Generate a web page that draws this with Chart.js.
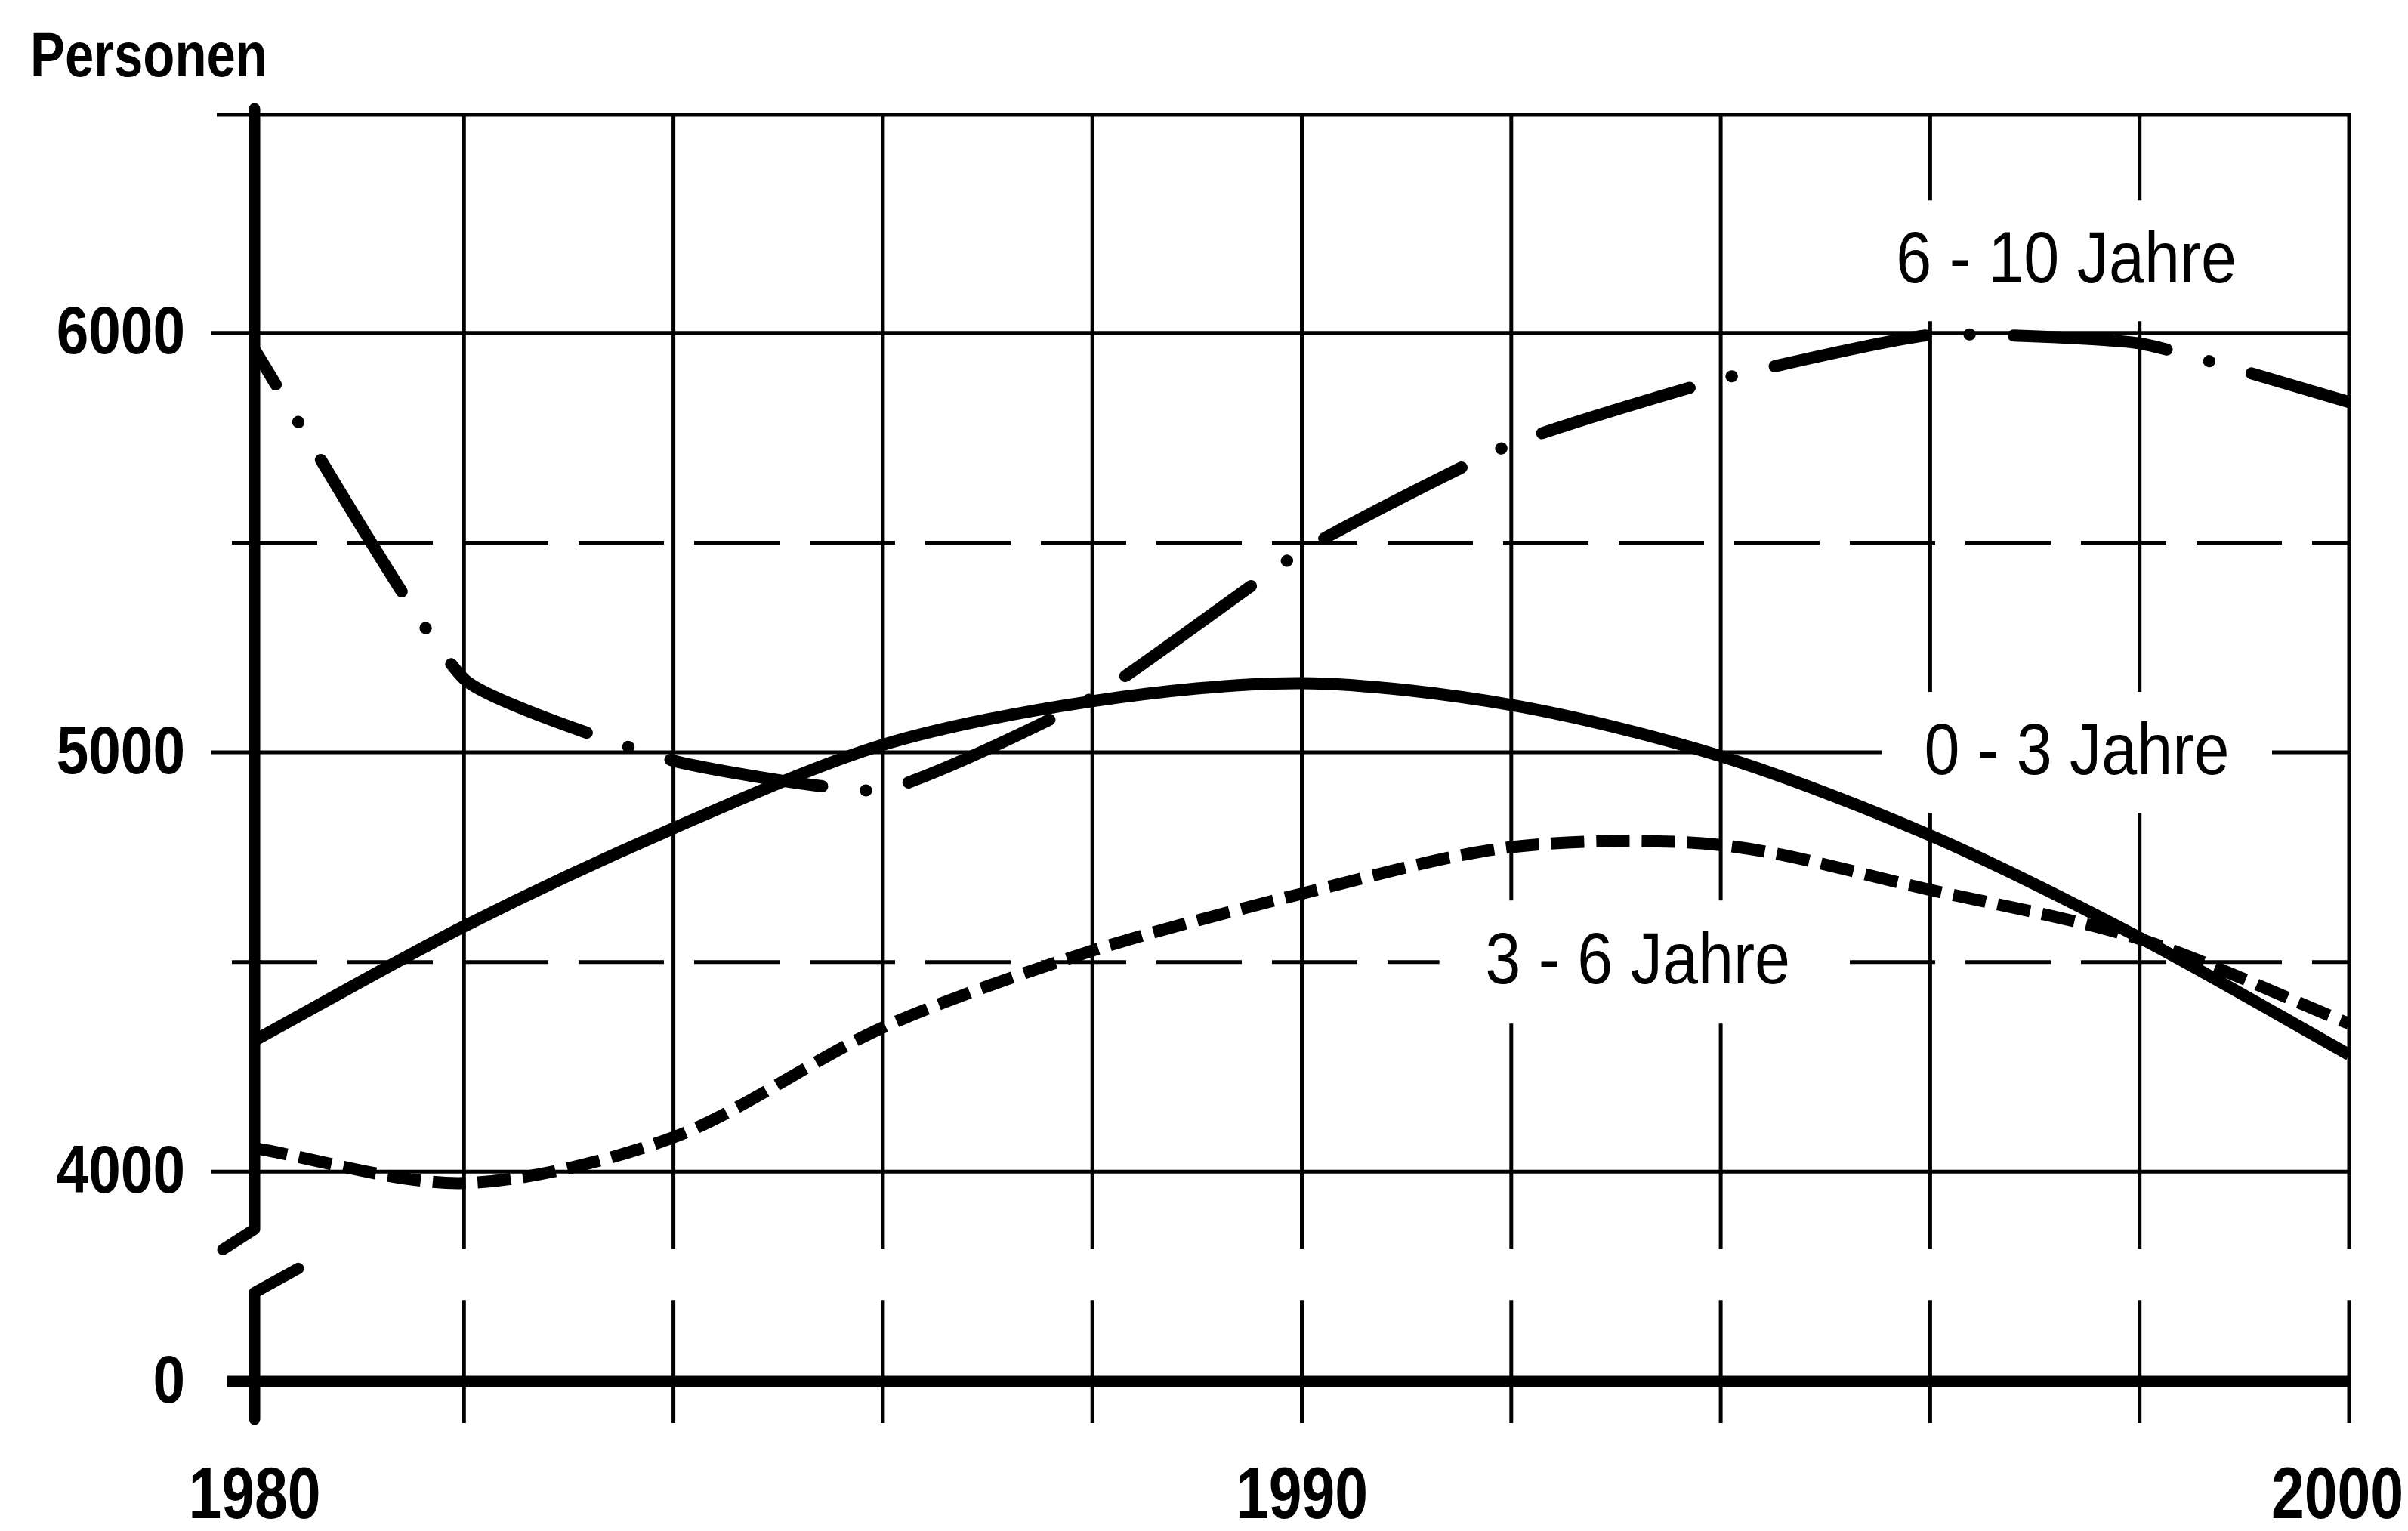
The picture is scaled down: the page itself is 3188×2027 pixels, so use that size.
<!DOCTYPE html>
<html lang="de">
<head>
    <meta charset="UTF-8">
    <title>Personen nach Altersgruppen 1980 - 2000</title>
    <style>
        html, body {
            margin: 0;
            padding: 0;
            background: #fff;
        }
        #wrap {
            width: 3188px;
            height: 2027px;
        }
    </style>
    <script src="https://cdn.jsdelivr.net/npm/chart.js"></script>
</head>
<body>

<div id="wrap">
    <canvas id="chart" width="3188" height="2027"></canvas>
</div>

<script>
    // Jahre und Werte (Personen)
    const YEARS     = [1980, 1982, 1984, 1986, 1988, 1990, 1992, 1994, 1996, 1998, 2000];
    const KIDS_0_3  = [4313, 4585, 4819, 5018, 5122, 5165, 5113, 4991, 4802, 4558, 4279];
    const KIDS_3_6  = [4056, 3973, 4082, 4344, 4527, 4663, 4774, 4779, 4672, 4555, 4353];
    const KIDS_6_10 = [5960, 5175, 4980, 4910, 5130, 5480, 5735, 5890, 5995, 5975, 5835];

    const SERIES_NAMES = ['0 - 3 Jahre', '3 - 6 Jahre', '6 - 10 Jahre'];

    // Achsen
    const X_TICKS = [1980, 1990, 2000];
    const X_GRID_STEP = 2;
    const Y_TICKS = [0, 4000, 5000, 6000];
    const Y_SOLID_LINES = [4000, 5000, 6000];
    const Y_DASHED_LINES = [4500, 5500];
    const Y_ZERO_AT = 3500;   // die 0-Linie sitzt unter dem Achsenbruch
    const Y_TOP = 6520;

    const INK = '#000';
    const FONT = '"Liberation Sans", Arial, sans-serif';

    Chart.defaults.font.family = FONT;
    Chart.defaults.color = INK;

    const pts = arr => YEARS.map((x, i) => ({ x: x, y: arr[i] }));

    function seg(ctx, x1, y1, x2, y2) {
        ctx.beginPath();
        ctx.moveTo(x1, y1);
        ctx.lineTo(x2, y2);
        ctx.stroke();
    }

    // schmale Schrift: normale Schrift waagerecht gestaucht
    function narrowText(ctx, text, x, y, font, align, sx) {
        ctx.save();
        ctx.font = font;
        ctx.textAlign = align;
        ctx.textBaseline = 'middle';
        ctx.fillStyle = INK;
        ctx.scale(sx, 1);
        ctx.fillText(text, x / sx, y);
        ctx.restore();
    }

    // Raster, Achsen mit Bruch und Beschriftungen der Kurven
    const paperGrid = {
        id: 'paperGrid',
        beforeDatasetsDraw(chart, args, opts) {
            const ctx = chart.ctx;
            const xs = chart.scales.x;
            const ys = chart.scales.y;
            const left = xs.getPixelForValue(YEARS[0]);
            const right = xs.getPixelForValue(YEARS[YEARS.length - 1]);
            const y4000 = ys.getPixelForValue(4000);
            const yZero = ys.getPixelForValue(Y_ZERO_AT);
            const yTop = ys.getPixelForValue(Y_TOP);

            ctx.save();
            ctx.strokeStyle = INK;
            ctx.lineCap = 'butt';

            // senkrechte Linien
            ctx.lineWidth = 5;
            for (let yr = YEARS[0] + X_GRID_STEP; yr <= YEARS[YEARS.length - 1]; yr += X_GRID_STEP) {
                const x = xs.getPixelForValue(yr);
                seg(ctx, x, yTop, x, y4000 + 102);
                seg(ctx, x, y4000 + 170, x, yZero + 55);
            }

            // waagerechte Linien
            Y_SOLID_LINES.forEach(v => {
                const y = ys.getPixelForValue(v);
                seg(ctx, left - 57, y, right + 2, y);
            });
            seg(ctx, left - 50, yTop, right + 2, yTop);

            ctx.setLineDash([113, 40]);
            Y_DASHED_LINES.forEach(v => {
                const y = ys.getPixelForValue(v);
                seg(ctx, left - 30, y, right, y);
            });
            ctx.setLineDash([]);

            // Kurvennamen auf weissem Grund
            opts.labels.forEach(l => {
                const cx = xs.getPixelForValue(l.x);
                const cy = ys.getPixelForValue(l.y);
                ctx.fillStyle = '#fff';
                ctx.fillRect(cx - l.w / 2, cy - l.h / 2, l.w, l.h);
                narrowText(ctx, l.text, cx + (l.dx || 0), cy + 2, '96px ' + FONT, 'center', 0.88);
            });

            // Achsen
            ctx.lineWidth = 15;
            seg(ctx, left - 36, yZero, right + 2, yZero);

            ctx.lineJoin = 'round';
            ctx.lineCap = 'round';
            ctx.beginPath();
            ctx.moveTo(left, yTop - 8);
            ctx.lineTo(left, y4000 + 76);
            ctx.lineTo(left - 42, y4000 + 103);
            ctx.stroke();

            ctx.beginPath();
            ctx.moveTo(left + 58, y4000 + 128);
            ctx.lineTo(left, y4000 + 160);
            ctx.lineTo(left, yZero + 50);
            ctx.stroke();

            ctx.restore();
        },
        afterDraw(chart) {
            const ctx = chart.ctx;
            const xs = chart.scales.x;
            const ys = chart.scales.y;

            // y-Beschriftung
            Y_TICKS.forEach(v => {
                const y = ys.getPixelForValue(v === 0 ? Y_ZERO_AT : v);
                narrowText(ctx, String(v), xs.left - 92, y + 3, 'bold 89px ' + FONT, 'right', 0.86);
            });

            // x-Beschriftung
            const xFont = 'bold 96px ' + FONT;
            ctx.font = xFont;
            X_TICKS.forEach(v => {
                const half = ctx.measureText(String(v)).width * 0.82 / 2;
                const x = Math.min(xs.getPixelForValue(v), chart.width - half - 6);
                narrowText(ctx, String(v), x, 1984, xFont, 'center', 0.82);
            });

            narrowText(ctx, 'Personen', 40, 78, 'bold 84px ' + FONT, 'left', 0.82);
        }
    };

    new Chart(document.getElementById('chart').getContext('2d'), {
        type: 'line',
        data: {
            datasets: [
                {
                    label: SERIES_NAMES[0],
                    data: pts(KIDS_0_3),
                    borderColor: INK,
                    borderWidth: 16,
                    borderCapStyle: 'butt',
                    borderJoinStyle: 'round',
                    pointRadius: 0,
                    tension: 0.3
                },
                {
                    label: SERIES_NAMES[1],
                    data: pts(KIDS_3_6),
                    borderColor: INK,
                    borderWidth: 16,
                    borderDash: [44, 16],
                    borderCapStyle: 'butt',
                    borderJoinStyle: 'round',
                    pointRadius: 0,
                    tension: 0.3
                },
                {
                    label: SERIES_NAMES[2],
                    data: pts(KIDS_6_10),
                    borderColor: INK,
                    borderWidth: 16,
                    borderDash: [204, 58, 0.5, 58],
                    borderDashOffset: 150,
                    borderCapStyle: 'round',
                    borderJoinStyle: 'round',
                    pointRadius: 0,
                    tension: 0.15
                }
            ]
        },
        options: {
            responsive: false,
            animation: false,
            devicePixelRatio: 1,
            layout: {
                autoPadding: false,
                padding: { left: 0, right: 78, top: 152, bottom: 0 }
            },
            scales: {
                x: {
                    type: 'linear',
                    min: YEARS[0],
                    max: YEARS[YEARS.length - 1],
                    grid: { display: false, drawTicks: false },
                    border: { display: false },
                    ticks: { display: false },
                    afterBuildTicks: s => { s.ticks = X_TICKS.map(v => ({ value: v })); },
                    afterFit: s => { s.height = 198; }
                },
                y: {
                    type: 'linear',
                    min: Y_ZERO_AT,
                    max: Y_TOP,
                    grid: { display: false, drawTicks: false },
                    border: { display: false },
                    ticks: { display: false },
                    afterBuildTicks: s => { s.ticks = Y_TICKS.map(v => ({ value: v === 0 ? Y_ZERO_AT : v })); },
                    afterFit: s => { s.width = 337; }
                }
            },
            plugins: {
                legend: { display: false },
                tooltip: { enabled: false },
                paperGrid: {
                    labels: [
                        { text: SERIES_NAMES[2], x: 1997.3, y: 6172, w: 510, h: 160 },
                        { text: SERIES_NAMES[0], x: 1997.4, y: 5000, w: 517, h: 160 },
                        { text: SERIES_NAMES[1], x: 1993.25, y: 4500, w: 537, h: 163, dx: -6 }
                    ]
                }
            }
        },
        plugins: [paperGrid]
    });
</script>

</body>
</html>
